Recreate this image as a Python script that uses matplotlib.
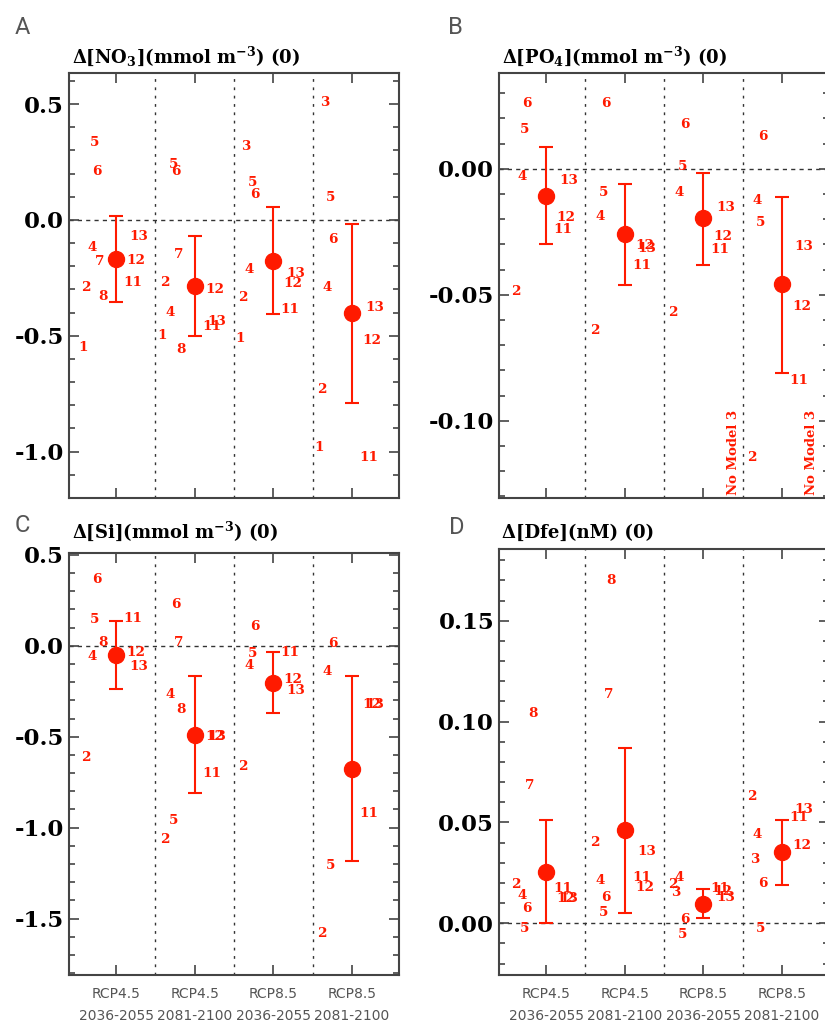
import matplotlib.pyplot as plt
import numpy as np
from matplotlib.ticker import MultipleLocator, FormatStrFormatter

plt.rcParams['mathtext.fontset'] = 'custom'
plt.rcParams['mathtext.rm'] = 'DejaVu Serif:bold'
plt.rcParams['mathtext.it'] = 'DejaVu Serif:bold'
plt.rcParams['mathtext.default'] = 'rm'

nan = np.nan
periods = ["RCP4.5\n2036-2055", "RCP4.5\n2081-2100",
           "RCP8.5\n2036-2055", "RCP8.5\n2081-2100"]

# A: NO3, one row per model, one column per period
no3_models = [1, 2, 3, 4, 5, 6, 7, 8, 11, 12, 13]
no3_vals = [
    [-0.55, -0.50, -0.51, -0.98],
    [-0.29, -0.27, -0.335, -0.73],
    [nan, nan, 0.315, 0.505],
    [-0.12, -0.40, -0.215, -0.293],
    [0.336, 0.237, 0.16, 0.095],
    [0.207, 0.207, 0.11, -0.086],
    [-0.18, -0.15, nan, nan],
    [-0.33, -0.56, nan, nan],
    [-0.27, -0.46, -0.385, -1.027],
    [-0.177, -0.30, -0.275, -0.52],
    [-0.073, -0.44, -0.23, -0.38],
]
no3_mean = [-0.17, -0.285, -0.177, -0.40]
no3_lo = [-0.355, -0.50, -0.405, -0.79]
no3_hi = [0.017, -0.069, 0.056, -0.017]

# B: PO4
po4_models = [2, 4, 5, 6, 11, 12, 13]
po4_vals = [
    [-0.0488, -0.064, -0.057, -0.1147],
    [-0.0032, -0.019, -0.0095, -0.0127],
    [0.0155, -0.0095, 0.0008, -0.0214],
    [0.0258, 0.026, 0.0175, 0.013],
    [-0.024, -0.0385, -0.032, -0.0838],
    [-0.0195, -0.0305, -0.027, -0.0548],
    [-0.0048, -0.0315, -0.0155, -0.031],
]
po4_mean = [-0.0107, -0.026, -0.0195, -0.0457]
po4_lo = [-0.0298, -0.046, -0.038, -0.081]
po4_hi = [0.0087, -0.006, -0.0016, -0.011]
po4_note = [nan, nan, 1, 1]  # "No Model 3" flags

# C: Si
si_models = [2, 4, 5, 6, 7, 8, 11, 12, 13]
si_vals = [
    [-0.615, -1.066, -0.665, -1.582],
    [-0.06, -0.27, -0.11, -0.143],
    [0.143, -0.962, -0.044, -1.209],
    [0.363, 0.225, 0.104, 0.011],
    [nan, 0.016, nan, nan],
    [0.016, -0.352, nan, nan],
    [0.148, -0.703, -0.038, -0.923],
    [-0.038, -0.50, -0.187, -0.324],
    [-0.115, -0.50, -0.247, -0.324],
]
si_mean = [-0.05, -0.49, -0.203, -0.676]
si_lo = [-0.236, -0.808, -0.368, -1.181]
si_hi = [0.137, -0.165, -0.033, -0.165]

# D: dFe
fe_models = [2, 3, 4, 5, 6, 7, 8, 11, 12, 13]
fe_vals = [
    [0.0193, 0.040, 0.0193, 0.0629],
    [nan, nan, 0.0153, 0.0317],
    [0.0139, 0.0213, 0.0228, 0.044],
    [-0.0025, 0.0054, -0.0054, -0.0025],
    [0.0074, 0.0129, 0.002, 0.0198],
    [0.0683, 0.1134, nan, nan],
    [0.104, 0.170, nan, nan],
    [0.0173, 0.0228, 0.0173, 0.0525],
    [0.0124, 0.0178, 0.0155, 0.0386],
    [0.0124, 0.0356, 0.0125, 0.0564],
]
fe_mean = [0.0252, 0.046, 0.0094, 0.0351]
fe_lo = [0.0, 0.005, 0.0025, 0.0188]
fe_hi = [0.051, 0.0871, 0.0168, 0.051]

RED = '#ff1a00'
SPINE = '#444444'
dx = {1: -0.42, 2: -0.385, 3: -0.35, 4: -0.31, 5: -0.27, 6: -0.24,
      7: -0.205, 8: -0.17, 11: 0.215, 12: 0.25, 13: 0.285}

fig = plt.figure(figsize=(8.25, 10.26), dpi=100)
W, H = 825.0, 1026.0


def box(l, t, r, b):
    return [l / W, 1 - b / H, (r - l) / W, (b - t) / H]


def panel(rect, models, vals, mean, lo, hi, ylim, major, minor, fmt, xlabels):
    ax = fig.add_axes(rect)
    x = np.arange(1, 5)
    ax.set_xlim(0.4, 4.6)
    ax.set_ylim(*ylim)
    for xv in [1.5, 2.5, 3.5]:
        ax.axvline(xv, color='#333333', lw=1.0, ls=(0, (2, 4)), zorder=1)
    ax.axhline(0, color='#333333', lw=1.0, ls=(0, (3, 3)), zorder=1)
    for m, row in zip(models, vals):
        for i, v in enumerate(row):
            if np.isnan(v):
                continue
            ax.text(x[i] + dx[m], v, str(m), color=RED, fontsize=9.7,
                    fontweight='bold', family='DejaVu Serif',
                    ha='center', va='center', zorder=3)
    mean = np.array(mean)
    yerr = [mean - np.array(lo), np.array(hi) - mean]
    ax.errorbar(x, mean, yerr=yerr, fmt='o', color=RED, ms=11.5,
                elinewidth=1.5, capsize=5, capthick=1.5, zorder=4)
    ax.set_xticks(x)
    if xlabels:
        ax.set_xticklabels(periods, family='DejaVu Sans', fontsize=10,
                           color='#555555', linespacing=1.7)
    else:
        ax.set_xticklabels([])
    ax.yaxis.set_major_locator(MultipleLocator(major))
    ax.yaxis.set_minor_locator(MultipleLocator(minor))
    ax.yaxis.set_major_formatter(FormatStrFormatter(fmt))
    ax.tick_params(axis='both', which='both', direction='in', top=True,
                   right=True, color=SPINE, width=1.2)
    ax.tick_params(axis='both', which='major', length=7)
    ax.tick_params(axis='y', which='minor', length=4)
    ax.tick_params(axis='x', pad=9)
    for lab in ax.get_yticklabels():
        lab.set_family('DejaVu Serif')
        lab.set_fontweight('bold')
        lab.set_fontsize(16.5)
    for s in ax.spines.values():
        s.set_color(SPINE)
        s.set_linewidth(1.5)
    return ax


axA = panel(box(69, 73, 399, 498), no3_models, no3_vals, no3_mean, no3_lo,
            no3_hi, (-1.2, 0.634), 0.5, 0.1, '%.1f', False)
axB = panel(box(499, 73, 829, 498), po4_models, po4_vals, po4_mean, po4_lo,
            po4_hi, (-0.1306, 0.038), 0.05, 0.01, '%.2f', False)
for i, f in enumerate(po4_note):
    if not np.isnan(f):
        axB.text(i + 1 + 0.38, -0.1296, 'No Model 3', rotation=90, color=RED,
                 fontsize=9.5, fontweight='bold', family='DejaVu Serif',
                 ha='center', va='bottom')
axC = panel(box(69, 553, 399, 975), si_models, si_vals, si_mean, si_lo,
            si_hi, (-1.81, 0.51), 0.5, 0.1, '%.1f', True)
axD = panel(box(499, 549, 829, 975), fe_models, fe_vals, fe_mean, fe_lo,
            fe_hi, (-0.0257, 0.1856), 0.05, 0.01, '%.2f', True)

titles = [
    (72, 63, 'Δ[NO$_3$](mmol m$^{-3}$) (0)'),
    (502, 63, 'Δ[PO$_4$](mmol m$^{-3}$) (0)'),
    (72, 538, 'Δ[Si](mmol m$^{-3}$) (0)'),
    (502, 538, 'Δ[Dfe](nM) (0)'),
]
for tx, ty, t in titles:
    fig.text(tx / W, 1 - ty / H, t, family='DejaVu Serif', fontweight='bold',
             fontsize=13, ha='left', va='baseline')

for lx, ly, l in [(22, 27, 'A'), (455, 27, 'B'), (22, 525, 'C'), (457, 527, 'D')]:
    fig.text(lx / W, 1 - ly / H, l, family='Roboto', fontweight='normal',
             fontsize=17, color='#555555', ha='center', va='center')

fig.savefig('out.png', dpi=100)
